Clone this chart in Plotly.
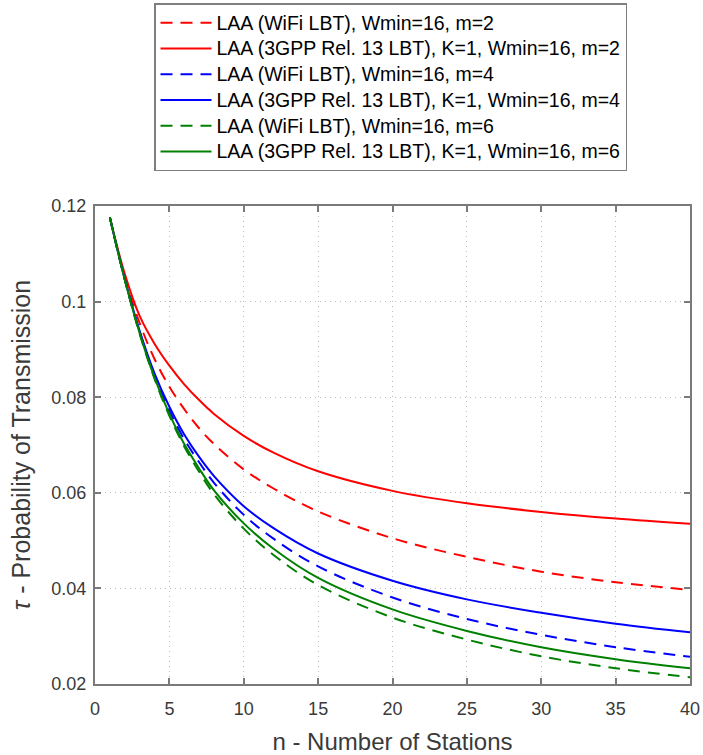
import plotly.graph_objects as go

# ---- data ----
n_stations = [1, 2, 3, 4, 5, 6, 7, 8, 10, 12, 15, 20, 25, 30, 35, 40]

wifi_m2 = [0.1176, 0.1051, 0.0955, 0.0880, 0.0822, 0.0775, 0.0735, 0.0702,
           0.0649, 0.0609, 0.0561, 0.0505, 0.0466, 0.0435, 0.0413, 0.0397]
rel13_m2 = [0.1176, 0.1058, 0.0970, 0.0912, 0.0866, 0.0827, 0.0794, 0.0765,
            0.0719, 0.0684, 0.0645, 0.0604, 0.0578, 0.0560, 0.0546, 0.0535]
wifi_m4 = [0.1176, 0.1046, 0.0936, 0.0845, 0.0772, 0.0712, 0.0664, 0.0621,
           0.0554, 0.0504, 0.0446, 0.0381, 0.0336, 0.0303, 0.0277, 0.0257]
rel13_m4 = [0.1176, 0.1047, 0.0939, 0.0850, 0.0780, 0.0722, 0.0675, 0.0635,
            0.0572, 0.0526, 0.0473, 0.0416, 0.0377, 0.0349, 0.0326, 0.0308]
wifi_m6 = [0.1176, 0.1046, 0.0933, 0.0839, 0.0761, 0.0697, 0.0644, 0.0597,
           0.0525, 0.0470, 0.0407, 0.0339, 0.0293, 0.0258, 0.0233, 0.0214]
rel13_m6 = [0.1176, 0.1046, 0.0934, 0.0841, 0.0765, 0.0702, 0.0651, 0.0605,
            0.0536, 0.0483, 0.0422, 0.0356, 0.0311, 0.0277, 0.0252, 0.0233]

series_names = [
    "LAA (WiFi LBT), Wmin=16, m=2",
    "LAA (3GPP Rel. 13 LBT), K=1, Wmin=16, m=2",
    "LAA (WiFi LBT), Wmin=16, m=4",
    "LAA (3GPP Rel. 13 LBT), K=1, Wmin=16, m=4",
    "LAA (WiFi LBT), Wmin=16, m=6",
    "LAA (3GPP Rel. 13 LBT), K=1, Wmin=16, m=6",
]
series_values = [wifi_m2, rel13_m2, wifi_m4, rel13_m4, wifi_m6, rel13_m6]
series_colors = ["#ff0000", "#ff0000", "#0000ff", "#0000ff", "#008000", "#008000"]
series_dash = ["12px,8px", "solid", "12px,8px", "solid", "12px,8px", "solid"]

x_ticks = [0, 5, 10, 15, 20, 25, 30, 35, 40]
x_ticktext = ["0", "5", "10", "15", "20", "25", "30", "35", "40"]
y_ticks = [0.02, 0.04, 0.06, 0.08, 0.10, 0.12]
y_ticktext = ["0.02", "0.04", "0.06", "0.08", "0.1", "0.12"]

FONT = "Liberation Sans, Arial, Helvetica, sans-serif"
AXIS_GRAY = "#7a7a7a"
TEXT_GRAY = "#3a3a3a"

fig = go.Figure()
for name, vals, col, dash in zip(series_names, series_values, series_colors, series_dash):
    fig.add_trace(go.Scatter(
        x=n_stations, y=vals, mode="lines",
        name='<span style="font-size:19.5px">' + name + '</span>',
        line=dict(color=col, width=2, dash=dash, shape="spline", smoothing=1.0),
    ))

axis_common = dict(
    showline=True, linecolor=AXIS_GRAY, linewidth=2, mirror="ticks",
    ticks="inside", ticklen=6, tickwidth=1.5, tickcolor=AXIS_GRAY,
    showgrid=True, gridcolor="#bdbdbd", gridwidth=1, griddash="1px,4px",
    zeroline=False, tickfont=dict(family=FONT, size=18, color=TEXT_GRAY),
    ticklabeloverflow="allow",
)

fig.update_xaxes(
    range=[0, 40], tickvals=x_ticks, ticktext=x_ticktext, ticklabelstandoff=7,
    title=dict(text="n - Number of Stations", standoff=16,
               font=dict(family=FONT, size=24, color=TEXT_GRAY)),
    **axis_common,
)
fig.update_yaxes(
    range=[0.02, 0.12], tickvals=y_ticks, ticktext=y_ticktext, ticklabelstandoff=3,
    title=dict(text="<i>τ</i> - Probability of Transmission", standoff=14,
               font=dict(family=FONT, size=25, color=TEXT_GRAY)),
    **axis_common,
)

fig.update_layout(
    width=703, height=755,
    margin=dict(l=95, r=13, t=206, b=71, autoexpand=False),
    paper_bgcolor="white", plot_bgcolor="white",
    font=dict(family=FONT, color=TEXT_GRAY),
    showlegend=True,
    legend=dict(
        x=(154 - 95) / 595, y=(684 - 3) / 478.3, xanchor="left", yanchor="top",
        bgcolor="white", bordercolor="#7f7f7f", borderwidth=1.5,
        font=dict(family=FONT, size=17.5, color="#000000"),
        itemwidth=51, tracegroupgap=0,
    ),
)

fig.write_html(
    "out.html",
    config={"displayModeBar": False},
    post_script="document.body.style.margin='0px';document.body.style.overflow='hidden';",
)
